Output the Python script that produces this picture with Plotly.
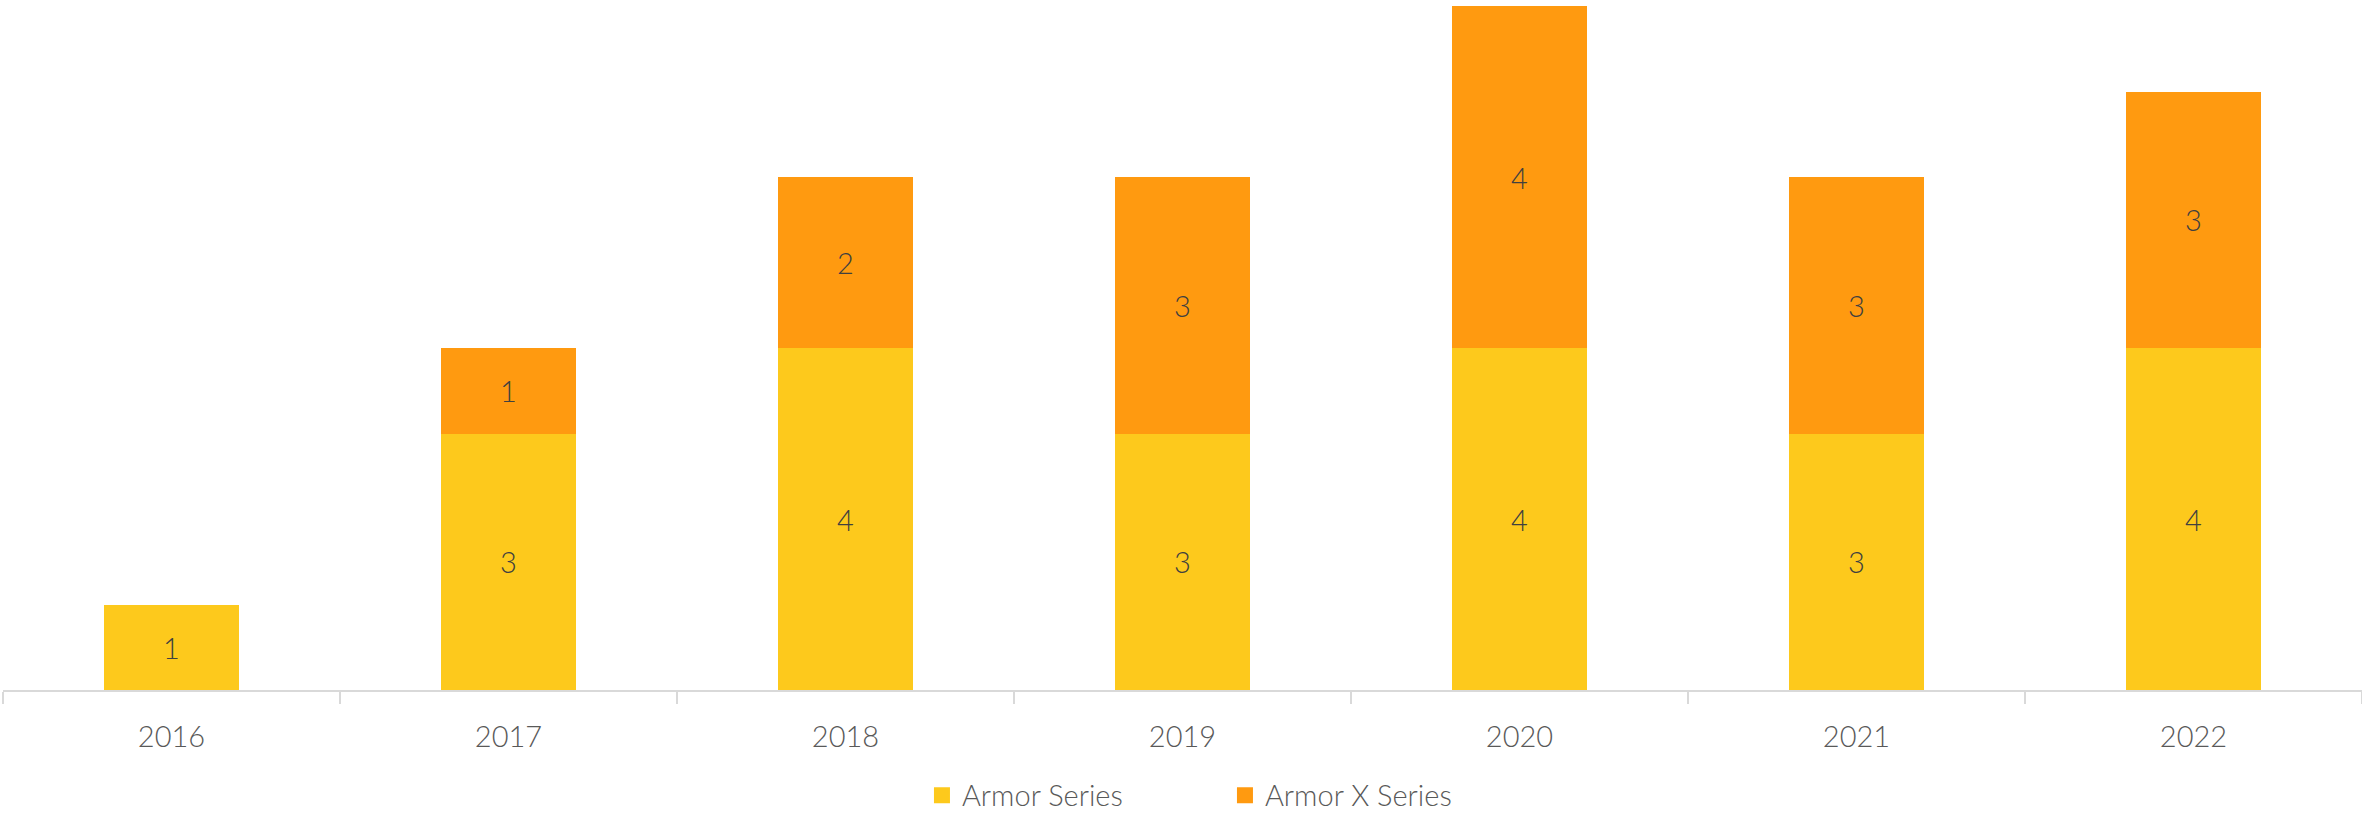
import plotly.graph_objects as go

years = ["2016", "2017", "2018", "2019", "2020", "2021", "2022"]
armor = [1, 3, 4, 3, 4, 3, 4]
armor_x = [None, 1, 2, 3, 4, 3, 3]
series_names = ["Armor Series", "Armor X Series"]
series_colors = ["#FDC91C", "#FF9A10"]

FONT = "Lato, 'Noto Sans', sans-serif"
fig = go.Figure()
for vals, name, col in zip([armor, armor_x], series_names, series_colors):
    fig.add_trace(go.Bar(x=years, y=vals, name=name, marker_color=col,
                         marker_line_width=0, text=vals, textposition="inside",
                         insidetextanchor="middle", showlegend=False,
                         textfont=dict(color="#404040", size=29, family=FONT, weight=300)))
# legend entries with larger square swatches
for name, col in zip(series_names, series_colors):
    fig.add_trace(go.Scatter(x=[None], y=[None], mode="markers", name=name,
                             marker=dict(symbol="square", size=19, color=col)))
fig.update_layout(
    barmode="stack", bargap=0.6,
    width=2362, height=813,
    margin=dict(l=3, r=0, t=6, b=123, autoexpand=False),
    paper_bgcolor="white", plot_bgcolor="white",
    font=dict(family=FONT, color="#595959", size=29, weight=300),
    uniformtext=dict(minsize=20, mode="show"),
    legend=dict(orientation="h", x=0.518, xanchor="center", y=-0.154, yanchor="middle",
                traceorder="normal", entrywidth=258, entrywidthmode="pixels",
                font=dict(size=29, color="#595959", family=FONT, weight=300),
                itemwidth=30),
    xaxis=dict(showline=True, linecolor="#D9D9D9", linewidth=2, ticks="outside",
               tickson="boundaries", tickcolor="#D9D9D9", ticklen=12, tickwidth=1.5,
               ticklabelstandoff=20, showgrid=False, automargin=False),
    yaxis=dict(range=[0, 8], visible=False, showgrid=False, automargin=False),
)
fig.write_html("out.html", config={"displayModeBar": False},
               post_script="document.body.style.margin='0';document.body.style.overflow='hidden';")
